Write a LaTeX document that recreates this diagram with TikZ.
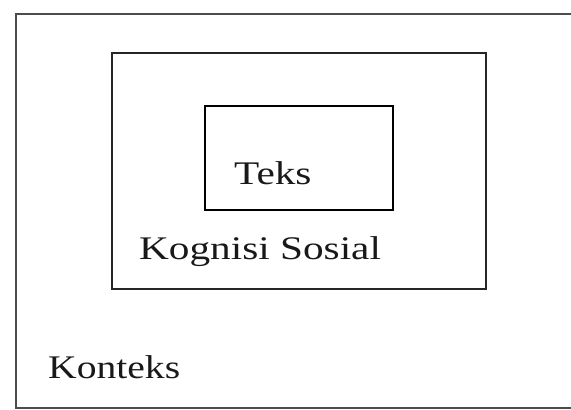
\documentclass[tikz,border=0pt]{standalone}
\usepackage{fontspec}
\usepackage{graphicx}
\setmainfont{Liberation Serif}
\tikzset{
  frame/.style={draw=black!85, line width=2pt},
  lbl/.style={anchor=base west, inner sep=0pt, text=black!90, font=\fontsize{33}{37}\selectfont}
}
\begin{document}
\begin{tikzpicture}[x=1pt,y=-1pt]
\fill[white] (0,0) rectangle (571,410);
\useasboundingbox (0,0) rectangle (571,410);
\draw[frame, draw=black!70, line width=2.5pt] (16,14) rectangle (576,408);
\draw[frame] (112,53) rectangle (486,289);
\draw[frame, draw=black] (205,106) rectangle (393,210);
\node[lbl] (teks) at (234,184) {\scalebox{1.25}[1]{Teks}};
\node[lbl] (kog) at (139,259) {\scalebox{1.25}[1]{Kognisi Sosial}};
\node[lbl] (kon) at (48,378) {\scalebox{1.2}[1]{Konteks}};
\end{tikzpicture}
\end{document}
